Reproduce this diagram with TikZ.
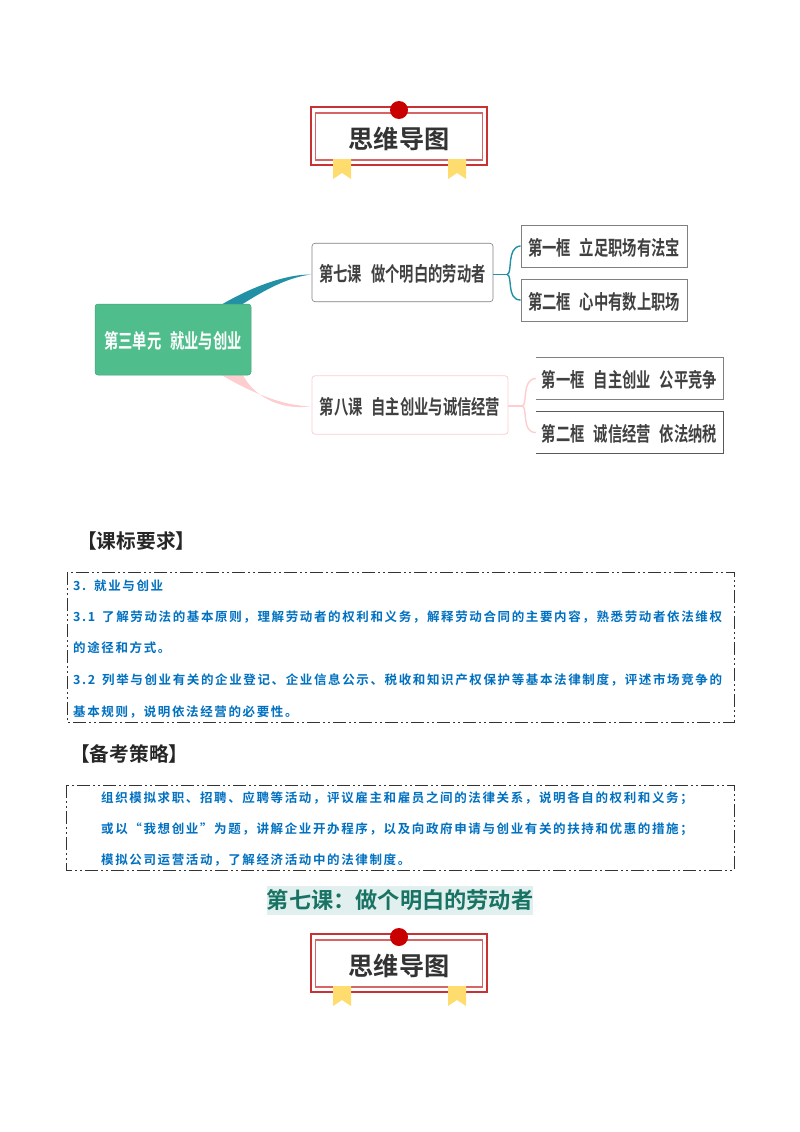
\documentclass[tikz,border=0pt]{standalone}
\usepackage{fontspec}
\usetikzlibrary{backgrounds}
\setmainfont{Noto Sans CJK SC}[BoldFont=* Bold]
\newfontfamily\mapfont{Noto Sans CJK SC}[BoldFont=* Bold,FakeStretch=0.715]
\newfontfamily\reqfont{Noto Sans CJK SC}[BoldFont=* Bold,LetterSpace=13]
\definecolor{rootgreen}{RGB}{80,190,140}
\definecolor{lineteal}{RGB}{35,145,165}
\definecolor{linepink}{RGB}{253,205,208}
\definecolor{framered}{RGB}{200,50,50}
\definecolor{dotred}{RGB}{200,0,0}
\definecolor{ribbon}{RGB}{255,220,110}
\definecolor{reqblue}{RGB}{0,112,192}
\definecolor{titlebg}{RGB}{225,240,238}
\definecolor{titlefg}{RGB}{25,115,100}
\definecolor{mapgray}{RGB}{64,64,64}
\begin{document}
\begin{tikzpicture}[x=1pt,y=-1pt]
    \tikzstyle{outerframe}=[draw=framered,line width=1.3pt,fill=white,minimum width=176pt,minimum height=58pt,inner sep=0pt]
    \tikzstyle{innerframe}=[draw=framered!75,line width=1.1pt,minimum width=167pt,minimum height=47pt,inner sep=0pt]
    \tikzstyle{dot}=[circle,fill=dotred,minimum size=18pt,inner sep=0pt]
    \tikzstyle{bannertext}=[font=\fontsize{25.2}{25}\selectfont\bfseries,text=black!80,inner sep=0pt]
    \tikzstyle{maptext}=[inner sep=0pt,text height=20pt,text depth=1.6pt,font=\mapfont\fontsize{20}{20}\selectfont\bfseries]
    \tikzstyle{rootbox}=[maptext,draw=rootgreen!85!black,line width=0.5pt,fill=rootgreen,rounded corners=3pt,minimum width=156pt,minimum height=71pt,text=white]
    \tikzstyle{lessonbox}=[maptext,fill=white,rounded corners=3pt,minimum height=58.5pt,text=mapgray]
    \tikzstyle{framebox}=[maptext,draw=black!50,line width=0.9pt,fill=white,minimum height=42pt,minimum width=166pt,text=mapgray]
    \tikzstyle{openbox}=[maptext,minimum height=41pt,minimum width=187pt,text=mapgray]
    \tikzstyle{heading}=[anchor=west,inner sep=0pt,text=black!85,font=\fontsize{19.7}{20}\selectfont\bfseries]
    \tikzstyle{dashbox}=[draw=black!80,line width=1pt,dash pattern=on 13pt off 3pt on 2pt off 3pt on 2pt off 3pt]
    \tikzstyle{reqline}=[anchor=west,inner sep=0pt,text=reqblue,font=\reqfont\fontsize{12.5}{13}\selectfont\bfseries]
    \useasboundingbox (0,0) rectangle (800,1132);

    % the two banners
    \foreach \n/\y in {top/0,low/827}{
      \node[outerframe] (frame\n) at (399,136+\y) {};
      \node[innerframe] (inner\n) at (399,136.5+\y) {};
      \fill[ribbon] (333,159+\y) -- (351,159+\y) -- (351,179+\y) -- (342,173+\y) -- (333,179+\y) -- cycle;
      \fill[ribbon] (448,159+\y) -- (466,159+\y) -- (466,179+\y) -- (457,173+\y) -- (448,179+\y) -- cycle;
      \node[dot] (dot\n) at (399,110+\y) {};
      \node[bannertext] (label\n) at (399,138.5+\y) {思维导图};
    }

    % mind map
    \node[rootbox] (root) at (173,339.5) {第三单元\hspace{9pt}就业与创业};
    \node[lessonbox,draw=black!50,line width=0.6pt,minimum width=181pt] (seven) at (402.5,272.5) {第七课\hspace{9pt}做个明白的劳动者};
    \node[lessonbox,draw=linepink,line width=0.8pt,minimum width=196pt] (eight) at (410,405) {第八课\hspace{9pt}自主创业与诚信经营};
    \node[framebox] (kuanA) at (604,246) {第一框\hspace{9pt}立足职场有法宝};
    \node[framebox] (kuanB) at (604,300) {第二框\hspace{9pt}心中有数上职场};
    \node[openbox] (kuanC) at (629.5,378.5) {第一框\hspace{9pt}自主创业\hspace{9pt}公平竞争};
    \node[openbox] (kuanD) at (629.5,432.5) {第二框\hspace{9pt}诚信经营\hspace{9pt}依法纳税};
    \draw[black!50,line width=0.9pt] (kuanC.north west) -- (kuanC.north east) -- (kuanC.south east) -- (kuanC.south west);
    \draw[black!65,line width=0.9pt] (kuanD.north west) -- (kuanD.north east) -- (kuanD.south east) -- (kuanD.south west);

    \coordinate (tealfork) at (507,274.5);
    \coordinate (pinkfork) at (522,406);
    \draw[lineteal,line width=1.4pt] (seven.east |- tealfork) -- (tealfork);
    \draw[lineteal,line width=1.4pt] (tealfork) .. controls (513,274) and (506,247) .. (kuanA.west);
    \draw[lineteal,line width=1.4pt] (tealfork) .. controls (513,275) and (506,300) .. (kuanB.west);
    \draw[linepink,line width=1.4pt] (eight.east |- pinkfork) -- (pinkfork);
    \draw[linepink,line width=1.4pt] (pinkfork) .. controls (528,406) and (521,379) .. (kuanC.west);
    \draw[linepink,line width=1.4pt] (pinkfork) .. controls (528,406) and (521,433) .. (kuanD.west);

    \begin{scope}[on background layer]
      \coordinate (sevenin) at (seven.west |- tealfork);
      \coordinate (eightin) at (eight.west |- pinkfork);
      \fill[lineteal] ([xshift=50pt]root.north) .. controls (250,288) and (285,274) .. (sevenin) .. controls (288,277) and (265,290) .. ([xshift=70pt]root.north) -- cycle;
      \fill[linepink] ([xshift=49pt]root.south) .. controls (250,392) and (285,407) .. (eightin) .. controls (283,411) and (255,398) .. ([xshift=70pt]root.south) -- cycle;
    \end{scope}

    % requirements
    \node[heading] (reqhead) at (77,541) {【课标要求】};
    \draw[dashbox] (67,572) rectangle (734,722);
    \node[reqline] (reqa) at (73,586) {3.\hspace{2pt} 就业与创业};
    \node[reqline] (reqb) at (73,617) {3.1\hspace{2.5pt} 了解劳动法的基本原则，理解劳动者的权利和义务，解释劳动合同的主要内容，熟悉劳动者依法维权};
    \node[reqline] (reqc) at (73,648) {的途径和方式。};
    \node[reqline] (reqd) at (73,680) {3.2\hspace{2.5pt} 列举与创业有关的企业登记、企业信息公示、税收和知识产权保护等基本法律制度，评述市场竞争的};
    \node[reqline] (reqe) at (73,712) {基本规则，说明依法经营的必要性。};

    % strategy
    \node[heading] (planhead) at (70,754) {【备考策略】};
    \draw[dashbox] (66,785) rectangle (734,870);
    \node[reqline] (plana) at (101,798) {组织模拟求职、招聘、应聘等活动，评议雇主和雇员之间的法律关系，说明各自的权利和义务；};
    \node[reqline] (planb) at (101,829) {或以“我想创业”为题，讲解企业开办程序，以及向政府申请与创业有关的扶持和优惠的措施；};
    \node[reqline] (planc) at (101,860) {模拟公司运营活动，了解经济活动中的法律制度。};

    \node[fill=titlebg,text=titlefg,inner sep=0pt,minimum width=266pt,minimum height=29pt,font=\fontsize{22.2}{25}\selectfont\bfseries] (lessontitle) at (400,900.5) {第七课：做个明白的劳动者};
\end{tikzpicture}
\end{document}
